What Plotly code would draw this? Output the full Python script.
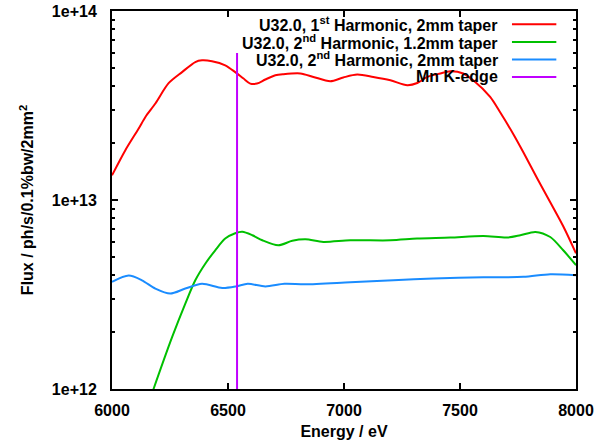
import plotly.graph_objects as go

# ---------------- data ----------------
h1_energy = [6000, 6057, 6115, 6144, 6187, 6244, 6302, 6359, 6388, 6431, 6488, 6531, 6567,
             6596, 6625, 6661, 6704, 6738, 6812, 6868, 6941, 6997, 7057, 7126, 7200, 7273,
             7316, 7359, 7415, 7458, 7514, 7557, 7630, 7673, 7730, 7773, 7833, 7889, 7945, 8000]
h1_flux = [1.35e13, 1.83e13, 2.39e13, 2.75e13, 3.24e13, 4.15e13, 4.75e13, 5.37e13, 5.48e13,
           5.42e13, 5.16e13, 4.75e13, 4.39e13, 4.13e13, 4.13e13, 4.34e13, 4.57e13, 4.63e13,
           4.67e13, 4.48e13, 4.25e13, 4.45e13, 4.61e13, 4.48e13, 4.30e13, 4.05e13, 4.16e13,
           4.48e13, 4.67e13, 4.80e13, 4.67e13, 4.30e13, 3.51e13, 2.91e13, 2.23e13, 1.79e13,
           1.30e13, 9.73e12, 7.26e12, 5.22e12]

h2a_energy = [6144, 6179, 6259, 6316, 6359, 6402, 6445, 6488, 6531, 6562, 6605, 6648, 6717,
              6777, 6834, 6911, 7027, 7200, 7315, 7458, 7601, 7703, 7760, 7825, 7889, 7945, 8000]
h2a_flux = [7.5e11, 1.0e12, 1.88e12, 2.83e12, 3.76e12, 4.60e12, 5.42e12, 6.25e12, 6.67e12,
            6.79e12, 6.51e12, 6.12e12, 5.76e12, 6.08e12, 6.19e12, 6.00e12, 6.12e12, 6.12e12,
            6.25e12, 6.33e12, 6.45e12, 6.33e12, 6.51e12, 6.78e12, 6.37e12, 5.42e12, 4.52e12]

h2b_energy = [6000, 6072, 6129, 6187, 6251, 6316, 6388, 6475, 6536, 6585, 6661, 6743, 6833,
              7027, 7213, 7385, 7601, 7773, 7889, 8000]
h2b_flux = [3.69e12, 3.98e12, 3.76e12, 3.40e12, 3.20e12, 3.40e12, 3.60e12, 3.42e12, 3.49e12,
            3.60e12, 3.49e12, 3.60e12, 3.58e12, 3.67e12, 3.76e12, 3.84e12, 3.90e12, 3.92e12,
            4.05e12, 4.00e12]

mn_edge_energy = [6539, 6539]
mn_edge_flux = [1e12, 6e13]

series_names = ["U32.0, 1<sup>st</sup> Harmonic, 2mm taper",
                "U32.0, 2<sup>nd</sup> Harmonic, 1.2mm taper",
                "U32.0, 2<sup>nd</sup> Harmonic, 2mm taper",
                "Mn K-edge"]
series_colors = ["#ff0000", "#00c000", "#1a8cff", "#c000ff"]

x_tick_vals = [6000, 6500, 7000, 7500, 8000]
y_tick_vals = [1e12, 1e13, 1e14]
y_tick_text = ["1e+12", "1e+13", "1e+14"]
y_minor_vals = [m * 10 ** e for e in (12, 13) for m in range(2, 10)]

# ---------------- figure ----------------
FONT = "Liberation Sans, Arial, sans-serif"
fig = go.Figure()
xs = [h1_energy, h2a_energy, h2b_energy, mn_edge_energy]
ys = [h1_flux, h2a_flux, h2b_flux, mn_edge_flux]
for x, y, name, col in zip(xs, ys, series_names, series_colors):
    fig.add_trace(go.Scatter(x=x, y=y, mode="lines", name=name,
                             line=dict(color=col, width=2, shape="spline", smoothing=0.8),
                             showlegend=False, cliponaxis=True))

# custom legend (text right-aligned, line sample to the right)
leg_y = [0.965, 0.918, 0.872, 0.8255]
for name, col, yy in zip(series_names, series_colors, leg_y):
    fig.add_annotation(x=0.837, y=yy, xref="paper", yref="paper", text="<b>" + name + "</b>",
                       showarrow=False, xanchor="right", yanchor="middle",
                       font=dict(family=FONT, size=16, color="black"))
    fig.add_shape(type="line", xref="paper", yref="paper", x0=0.862, x1=0.9576, y0=yy, y1=yy,
                  line=dict(color=col, width=2))

axis_common = dict(showline=True, linecolor="black", linewidth=2, mirror="allticks",
                   ticks="inside", tickcolor="black", tickwidth=1.5, ticklen=6,
                   showgrid=False, zeroline=False, automargin=False,
                   tickfont=dict(family=FONT, size=16, color="black"))

fig.update_xaxes(range=[6000, 8000], tickvals=x_tick_vals,
                 title=dict(text="<b>Energy / eV</b>", font=dict(family=FONT, size=16, color="black"),
                            standoff=8),
                 ticklabelstandoff=6, **axis_common)
fig.update_yaxes(type="log", range=[12, 14], tickvals=y_tick_vals, ticktext=y_tick_text,
                 minor=dict(ticks="inside", ticklen=3, tickvals=y_minor_vals, tickcolor="black",
                            tickwidth=1.5, showgrid=False),
                 title=dict(text="<b>Flux / ph/s/0.1%bw/2mm<sup>2</sup></b>",
                            font=dict(family=FONT, size=16, color="black"), standoff=14),
                 ticklabelstandoff=10, **axis_common)

fig.update_layout(width=605, height=447, margin=dict(l=112, r=29, t=11, b=58),
                  plot_bgcolor="white", paper_bgcolor="white",
                  font=dict(family=FONT, size=16, color="black", weight="bold"))

fig.write_html("out.html", config={"displayModeBar": False})
